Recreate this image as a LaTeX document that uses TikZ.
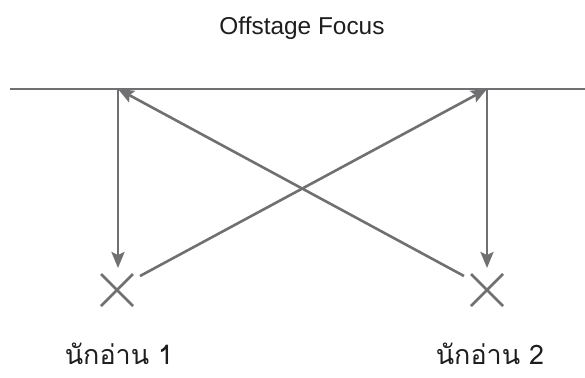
\documentclass[tikz,border=0pt]{standalone}
\usepackage{fontspec}
\setmainfont{Liberation Sans}
\newfontfamily\thaifont[Script=Thai]{Loma}
\usetikzlibrary{arrows.meta, positioning, calc}
\definecolor{linegray}{RGB}{112,112,114}
\definecolor{textgray}{RGB}{30,30,30}

\begin{document}
\begin{tikzpicture}[
  x=1bp, y=-1bp,
  cue/.style={line width=2.6bp, draw=linegray},
  arrow/.style={cue, -{Stealth[length=16bp, width=13bp, inset=3bp]}},
  reader/.style={font=\fontsize{27}{30}\selectfont\thaifont, text=textgray, anchor=base, inner sep=0pt, text depth=0pt},
  title/.style={font=\fontsize{24.5}{28}\selectfont, text=textgray, anchor=base, inner sep=0pt}
]
\useasboundingbox (0,0) rectangle (585,377);

% ---- Title and stage line ----
\node[title] (focus) at (302,34) {Offstage Focus};
\coordinate (lineL) at (10,89);
\coordinate (lineR) at (585,89);
\draw[cue] (lineL) -- (lineR);

% ---- Focus points on the line ----
\coordinate (fp1) at (118,89);
\coordinate (fp2) at (487,89);

% ---- Reader positions (crosses) ----
\coordinate (r1) at (117,290);
\coordinate (r2) at (487,290);
\foreach \r in {r1,r2}{
  \draw[cue] ($(\r)+(-16,-16)$) -- ($(\r)+(16,16)$);
  \draw[cue] ($(\r)+(-16,16)$) -- ($(\r)+(16,-16)$);
}

% ---- Labels ----
\node[reader] (lab1) at (119,364) {นักอ่าน 1};
\node[reader] (lab2) at (490,364) {นักอ่าน 2};

% ---- Sight lines ----
\coordinate (r1top) at (118,268);
\coordinate (r2top) at (487,268);
\draw[arrow] (fp1) -- (r1top);
\draw[arrow] (fp2) -- (r2top);
\coordinate (r1out) at (140,276);
\coordinate (r2out) at (464,276);
\draw[arrow] (r1out) -- (fp2);
\draw[arrow] (r2out) -- (fp1);

\end{tikzpicture}
\end{document}
